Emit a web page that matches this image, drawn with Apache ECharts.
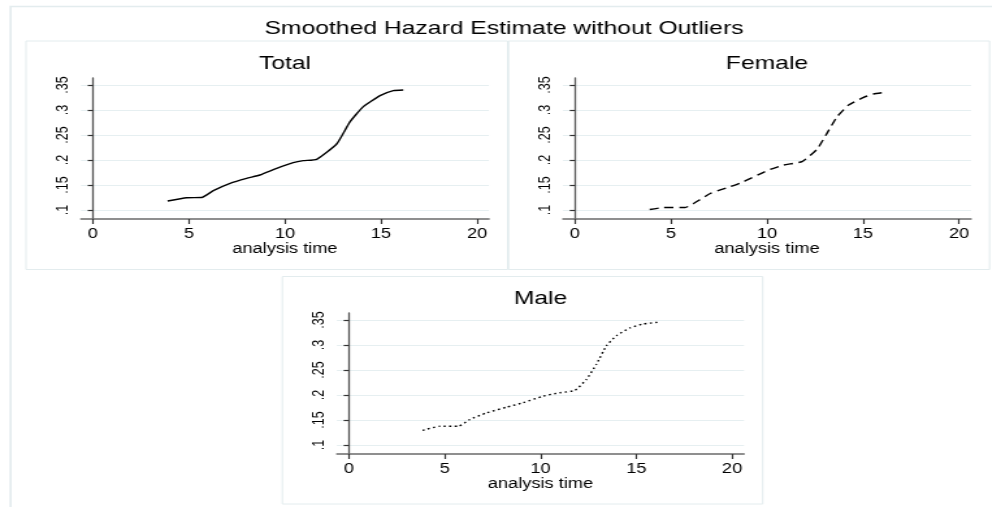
<!DOCTYPE html>
<html>
<head>
<meta charset="utf-8">
<script src="https://cdn.jsdelivr.net/npm/echarts@6/dist/echarts.min.js"></script>
<style>
  html, body { margin: 0; padding: 0; background: #fff; overflow: hidden; }
  /* the reference is a horizontally stretched Stata export, so stretch the canvas too */
  #chart { width: 763px; height: 507px; transform: scaleX(1.3); transform-origin: 0 0; }
</style>
</head>
<body>
<div id="chart"></div>
<script>
const xTicks = [0, 5, 10, 15, 20]
const yTicks = [0.1, 0.15, 0.2, 0.25, 0.3, 0.35]
const yTickLabels = ['.1', '.15', '.2', '.25', '.3', '.35']

const totalTime = [3.89, 4.88, 5.66, 6.27, 7.14, 8.0, 8.7, 9.57, 10.43, 10.95, 11.65, 12.69, 13.39, 14.08, 14.95, 15.64, 16.16]
const totalHazard = [0.118, 0.1246, 0.125, 0.1387, 0.1533, 0.1633, 0.170, 0.1833, 0.1947, 0.1987, 0.2013, 0.232, 0.2767, 0.3067, 0.3287, 0.3387, 0.340]

const femaleTime = [3.89, 4.62, 5.74, 6.18, 7.05, 8.09, 8.78, 10.0, 10.87, 11.82, 12.6, 13.12, 13.65, 14.25, 15.03, 15.55, 16.12]
const femaleHazard = [0.101, 0.105, 0.105, 0.113, 0.133, 0.1467, 0.1567, 0.1787, 0.190, 0.1967, 0.2213, 0.2533, 0.2867, 0.310, 0.3253, 0.332, 0.3353]

const maleTime = [3.85, 4.76, 5.71, 6.32, 7.19, 8.23, 9.09, 10.14, 11.0, 11.79, 12.4, 12.92, 13.44, 13.96, 14.66, 15.36, 16.14]
const maleHazard = [0.1294, 0.1375, 0.1375, 0.151, 0.1643, 0.1757, 0.1845, 0.1978, 0.2045, 0.2092, 0.2313, 0.2615, 0.2984, 0.3185, 0.334, 0.342, 0.3455]

const font = 'Liberation Sans, Arial, sans-serif'
const frameColor = '#e3ecee'

const pairs = (xs, ys) => xs.map((x, i) => [x, ys[i]])

// one panel per grid: Total, Female, Male
const grids = [
    { left: 62.3, top: 78, width: 313.8, height: 141 },
    { left: 433.1, top: 78, width: 313.8, height: 141 },
    { left: 259.2, top: 313, width: 313.1, height: 141 }
]
const panelTitles = ['Total', 'Female', 'Male']
const lineTypes = ['solid', [7, 4.5], [1.6, 2.6]]
const seriesData = [
    pairs(totalTime, totalHazard),
    pairs(femaleTime, femaleHazard),
    pairs(maleTime, maleHazard)
]

const xAxes = grids.map((g, i) => ({
    type: 'value',
    gridIndex: i,
    min: -0.62,
    max: 20.62,
    name: 'analysis time',
    nameLocation: 'middle',
    nameGap: 21,
    nameTextStyle: { color: '#000', fontFamily: font, fontSize: 14 },
    axisLine: { show: true, lineStyle: { color: '#6b6b6b', width: 1.6 } },
    axisTick: { show: true, length: 5, customValues: xTicks, lineStyle: { color: '#333', width: 1.2 } },
    axisLabel: { customValues: xTicks, margin: 8, color: '#000', fontFamily: font, fontSize: 14 },
    splitLine: { show: false }
}))

const yAxes = grids.map((g, i) => ({
    type: 'value',
    gridIndex: i,
    min: 0.082,
    max: 0.364,
    axisLine: { show: true, lineStyle: { color: '#555', width: 1.3 } },
    axisTick: { show: true, length: 4, customValues: yTicks, lineStyle: { color: '#333', width: 1.2 } },
    axisLabel: {
        customValues: yTicks,
        rotate: 90,
        margin: 7,
        color: '#000',
        fontFamily: font,
        fontSize: 12.5,
        formatter: v => yTickLabels[yTicks.findIndex(t => Math.abs(t - v) < 1e-9)]
    },
    splitLine: { show: true, lineStyle: { color: '#e6eff1', width: 1 } }
}))

const titles = [{
    text: 'Smoothed Hazard Estimate without Outliers',
    left: 387.7, top: 19.5, padding: 0, textAlign: 'center',
    textStyle: { color: '#000', fontFamily: font, fontSize: 19, fontWeight: 'normal' }
}].concat(grids.map((g, i) => ({
    text: panelTitles[i],
    left: g.left + g.width / 2,
    top: i < 2 ? 54.5 : 289.5,
    padding: 0,
    textAlign: 'center',
    textStyle: { color: '#000', fontFamily: font, fontSize: 19, fontWeight: 'normal' }
})))

const box = (x, y, w, h, lw) => ({
    type: 'rect',
    shape: { x: x, y: y, width: w, height: h },
    style: { fill: null, stroke: frameColor, lineWidth: lw },
    silent: true
})

const option = {
    backgroundColor: '#fff',
    animation: false,
    title: titles,
    grid: grids,
    xAxis: xAxes,
    yAxis: yAxes,
    graphic: [
        box(8.1, 6.5, 900, 600, 1.6),
        box(20, 41, 370.5, 228.5, 1),
        box(391.2, 41, 370, 228.5, 1),
        box(217.2, 276.5, 369.5, 227.5, 1)
    ],
    series: seriesData.map((d, i) => ({
        type: 'line',
        xAxisIndex: i,
        yAxisIndex: i,
        data: d,
        smooth: 0.15,
        showSymbol: false,
        lineStyle: { color: '#000', width: 1.4, type: lineTypes[i] }
    }))
}

const chart = echarts.init(document.getElementById('chart'))
chart.setOption(option)
</script>
</body>
</html>
